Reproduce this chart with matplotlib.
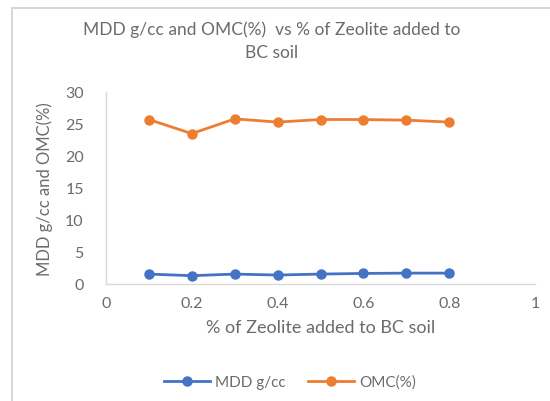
import matplotlib
matplotlib.use("Agg")
import matplotlib.pyplot as plt
from matplotlib.patches import Rectangle

plt.rcParams['font.family'] = ['Lato', 'DejaVu Sans']

zeolite_pct = [0.1, 0.2, 0.3, 0.4, 0.5, 0.6, 0.7, 0.8]
mdd_gcc = [1.55, 1.3, 1.55, 1.4, 1.55, 1.65, 1.7, 1.7]
omc_pct = [25.7, 23.5, 25.8, 25.3, 25.7, 25.7, 25.6, 25.3]
x_ticks = [0, 0.2, 0.4, 0.6, 0.8, 1]
x_tick_labels = ['0', '0.2', '0.4', '0.6', '0.8', '1']
y_ticks = [0, 5, 10, 15, 20, 25, 30]

text_grey = '#6b6b6b'
axis_grey = '#d9d9d9'
blue = '#4472C4'
orange = '#ED7D31'

fig = plt.figure(figsize=(5.5, 4.02), dpi=100)
fig.patches.append(Rectangle((12 / 550, -0.05), 1.1, (402 - 9) / 402 + 0.05,
                             transform=fig.transFigure, fill=False,
                             edgecolor='#d0d0d0', linewidth=1.2))

ax = fig.add_axes([106 / 550, (402 - 285) / 402, 429 / 550, 192 / 402])
ax.plot(zeolite_pct, mdd_gcc, color=blue, linewidth=2, marker='o',
        markersize=6.5, label='MDD g/cc')
ax.plot(zeolite_pct, omc_pct, color=orange, linewidth=2, marker='o',
        markersize=6.5, label='OMC(%)')

ax.set_xlim(0, 1)
ax.set_ylim(0, 30)
ax.set_xticks(x_ticks)
ax.set_xticklabels(x_tick_labels)
ax.set_yticks(y_ticks)
ax.tick_params(axis='both', length=0, colors=text_grey, labelsize=11.5)
ax.tick_params(axis='x', pad=9)
ax.tick_params(axis='y', pad=16)
for side in ['top', 'right']:
    ax.spines[side].set_visible(False)
for side in ['left', 'bottom']:
    ax.spines[side].set_color(axis_grey)
    ax.spines[side].set_linewidth(1)

ax.set_xlabel('% of Zeolite added to BC soil', color=text_grey, fontsize=13, labelpad=6)
ax.set_ylabel('MDD g/cc and OMC(%)', color=text_grey, fontsize=12)
ax.yaxis.set_label_coords(-53 / 429, 0.5)

fig.text(272 / 550, 1 - 41 / 402,
         'MDD g/cc and OMC(%)  vs % of Zeolite added to\nBC soil',
         ha='center', va='center', color=text_grey, fontsize=12.5,
         linespacing=1.5)

fig.legend(loc='center', bbox_to_anchor=(290 / 550, 1 - 383 / 402), ncol=2,
           frameon=False, fontsize=11, labelcolor=text_grey,
           handlelength=3, columnspacing=1.5, handletextpad=0.3)

fig.savefig('out.png', dpi=100)
